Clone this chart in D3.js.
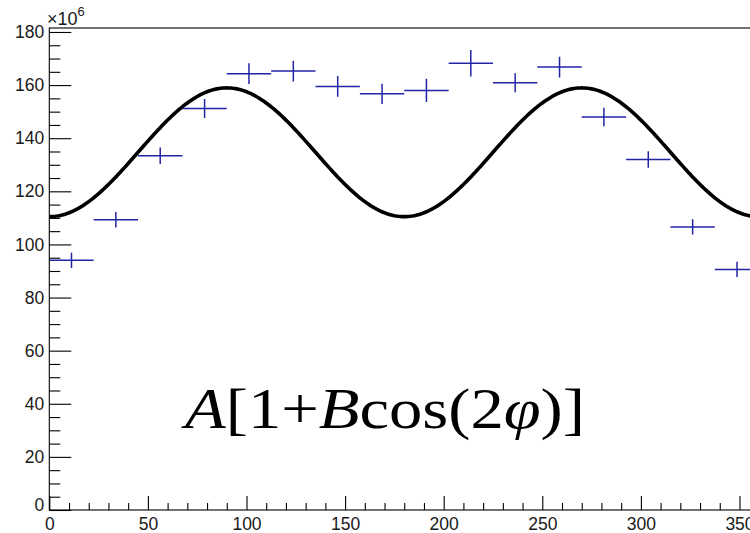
<!DOCTYPE html>
<html>
<head>
<meta charset="utf-8">
<script src="https://cdn.jsdelivr.net/npm/d3@7"></script>
<style>
  html, body { margin: 0; padding: 0; background: #fff; }
  svg { display: block; }
</style>
</head>
<body>
<svg id="chart" width="750" height="533"></svg>
<script>
// Azimuthal distribution: 16 bins of 22.5 degrees, counts in units of 10^6
const phiCenters = [11.25, 33.75, 56.25, 78.75, 101.25, 123.75, 146.25, 168.75,
                    191.25, 213.75, 236.25, 258.75, 281.25, 303.75, 326.25, 348.75];
const counts = [94.0, 109.3, 133.4, 151.2, 164.3, 165.3, 159.5, 156.7,
                158.0, 168.2, 160.9, 166.8, 148.0, 132.0, 106.6, 90.6];
const countErrors = [2.9, 2.95, 3.1, 3.6, 3.9, 3.9, 3.9, 3.8,
                     4.4, 5.0, 3.6, 3.9, 3.5, 3.1, 2.9, 2.9];
const binWidth = 22.5;

// Fit parameters of A[1 + B cos(2 phi)], A in units of 10^6
const fitA = 134.7;
const fitB = -0.180;

const xTicks = [0, 50, 100, 150, 200, 250, 300, 350];
const xMinorTicks = d3.range(0, 361, 10);
const yTicks = [0, 20, 40, 60, 80, 100, 120, 140, 160, 180];
const yMinorTicks = d3.range(0, 181, 5);

const xDomain = [0, 360];
const yDomain = [0, 181.5];

const svg = d3.select("#chart");
const x = d3.scaleLinear().domain(xDomain).range([49.3, 759.2]);
const y = d3.scaleLinear().domain(yDomain).range([510, 28]);

const labelFont = "'Liberation Sans', Arial, Helvetica, sans-serif";

svg.append("defs").append("clipPath").attr("id", "frame-clip")
  .append("rect")
  .attr("x", x(xDomain[0])).attr("y", y(yDomain[1]))
  .attr("width", x(xDomain[1]) - x(xDomain[0]))
  .attr("height", y(yDomain[0]) - y(yDomain[1]));

// Fitted curve
const curvePhi = d3.range(0, 360.5, 1);
const line = d3.line()
  .x(p => x(p))
  .y(p => y(fitA * (1 + fitB * Math.cos(2 * p * Math.PI / 180))))
  .curve(d3.curveLinear);

svg.append("path")
  .datum(curvePhi)
  .attr("clip-path", "url(#frame-clip)")
  .attr("d", line)
  .attr("fill", "none")
  .attr("stroke", "#000")
  .attr("stroke-width", 3.6)
  .attr("stroke-linejoin", "round");

// Data points with bin-width and statistical error bars
const bins = phiCenters.map((c, i) => ({ c, v: counts[i], e: countErrors[i] }));
const pts = svg.append("g")
  .attr("clip-path", "url(#frame-clip)")
  .attr("stroke", "#2323a6")
  .attr("stroke-width", 1.5);

pts.selectAll("line.hbar").data(bins).join("line")
  .attr("class", "hbar")
  .attr("x1", d => x(d.c - binWidth / 2))
  .attr("x2", d => x(d.c + binWidth / 2))
  .attr("y1", d => y(d.v))
  .attr("y2", d => y(d.v));

pts.selectAll("line.vbar").data(bins).join("line")
  .attr("class", "vbar")
  .attr("x1", d => x(d.c))
  .attr("x2", d => x(d.c))
  .attr("y1", d => y(d.v - d.e))
  .attr("y2", d => y(d.v + d.e));

// Axes: ticks point into the frame
const yAxis = g => g
  .call(d3.axisLeft(y).tickValues(yTicks).tickSize(-22).tickPadding(5)
        .tickFormat(d3.format("d")))
  .call(g => g.select(".domain").remove());
const yMinor = g => g
  .call(d3.axisLeft(y).tickValues(yMinorTicks.filter(v => !yTicks.includes(v)))
        .tickSize(-11).tickFormat(""))
  .call(g => g.select(".domain").remove());

const xAxis = g => g
  .call(d3.axisBottom(x).tickValues(xTicks).tickSize(-14).tickPadding(8)
        .tickFormat(d3.format("d")))
  .call(g => g.select(".domain").remove());
const xMinor = g => g
  .call(d3.axisBottom(x).tickValues(xMinorTicks.filter(v => !xTicks.includes(v)))
        .tickSize(-7).tickFormat(""))
  .call(g => g.select(".domain").remove());

const gy = svg.append("g").attr("transform", `translate(${x(0)},0)`).call(yAxis);
svg.append("g").attr("transform", `translate(${x(0)},0)`).call(yMinor);
const gx = svg.append("g").attr("transform", `translate(0,${y(0)})`).call(xAxis);
svg.append("g").attr("transform", `translate(0,${y(0)})`).call(xMinor);

svg.selectAll(".tick line").attr("stroke", "#000").attr("stroke-width", 1.1);
svg.selectAll(".tick text")
  .attr("fill", "#1a1a1a")
  .attr("font-family", labelFont)
  .attr("font-size", 17.5);

// the zero on the vertical axis is lifted clear of the horizontal labels
gy.selectAll(".tick").filter(d => d === 0).select("text").attr("dy", "0em");

// Frame
svg.append("rect")
  .attr("x", x(xDomain[0])).attr("y", y(yDomain[1]))
  .attr("width", x(xDomain[1]) - x(xDomain[0]))
  .attr("height", y(yDomain[0]) - y(yDomain[1]))
  .attr("fill", "none")
  .attr("stroke", "#000")
  .attr("stroke-width", 1.1);

// Axis exponent
const expo = svg.append("text")
  .attr("x", 47).attr("y", 25)
  .attr("font-family", labelFont)
  .attr("font-size", 18)
  .attr("fill", "#1a1a1a");
expo.append("tspan").text("×10");
expo.append("tspan").attr("dy", -9).attr("font-size", 13).text("6");

// Fit function label
const formula = svg.append("text")
  .attr("x", 185).attr("y", 428)
  .attr("font-family", "'Liberation Serif', 'Times New Roman', Times, serif")
  .attr("font-size", 56)
  .attr("textLength", 400)
  .attr("lengthAdjust", "spacingAndGlyphs")
  .attr("fill", "#000");
formula.append("tspan").attr("font-style", "italic").text("A");
formula.append("tspan").text("[1+");
formula.append("tspan").attr("font-style", "italic").text("B");
formula.append("tspan").text("cos(2");
formula.append("tspan").attr("font-style", "italic").text("φ");
formula.append("tspan").text(")]");
</script>
</body>
</html>
